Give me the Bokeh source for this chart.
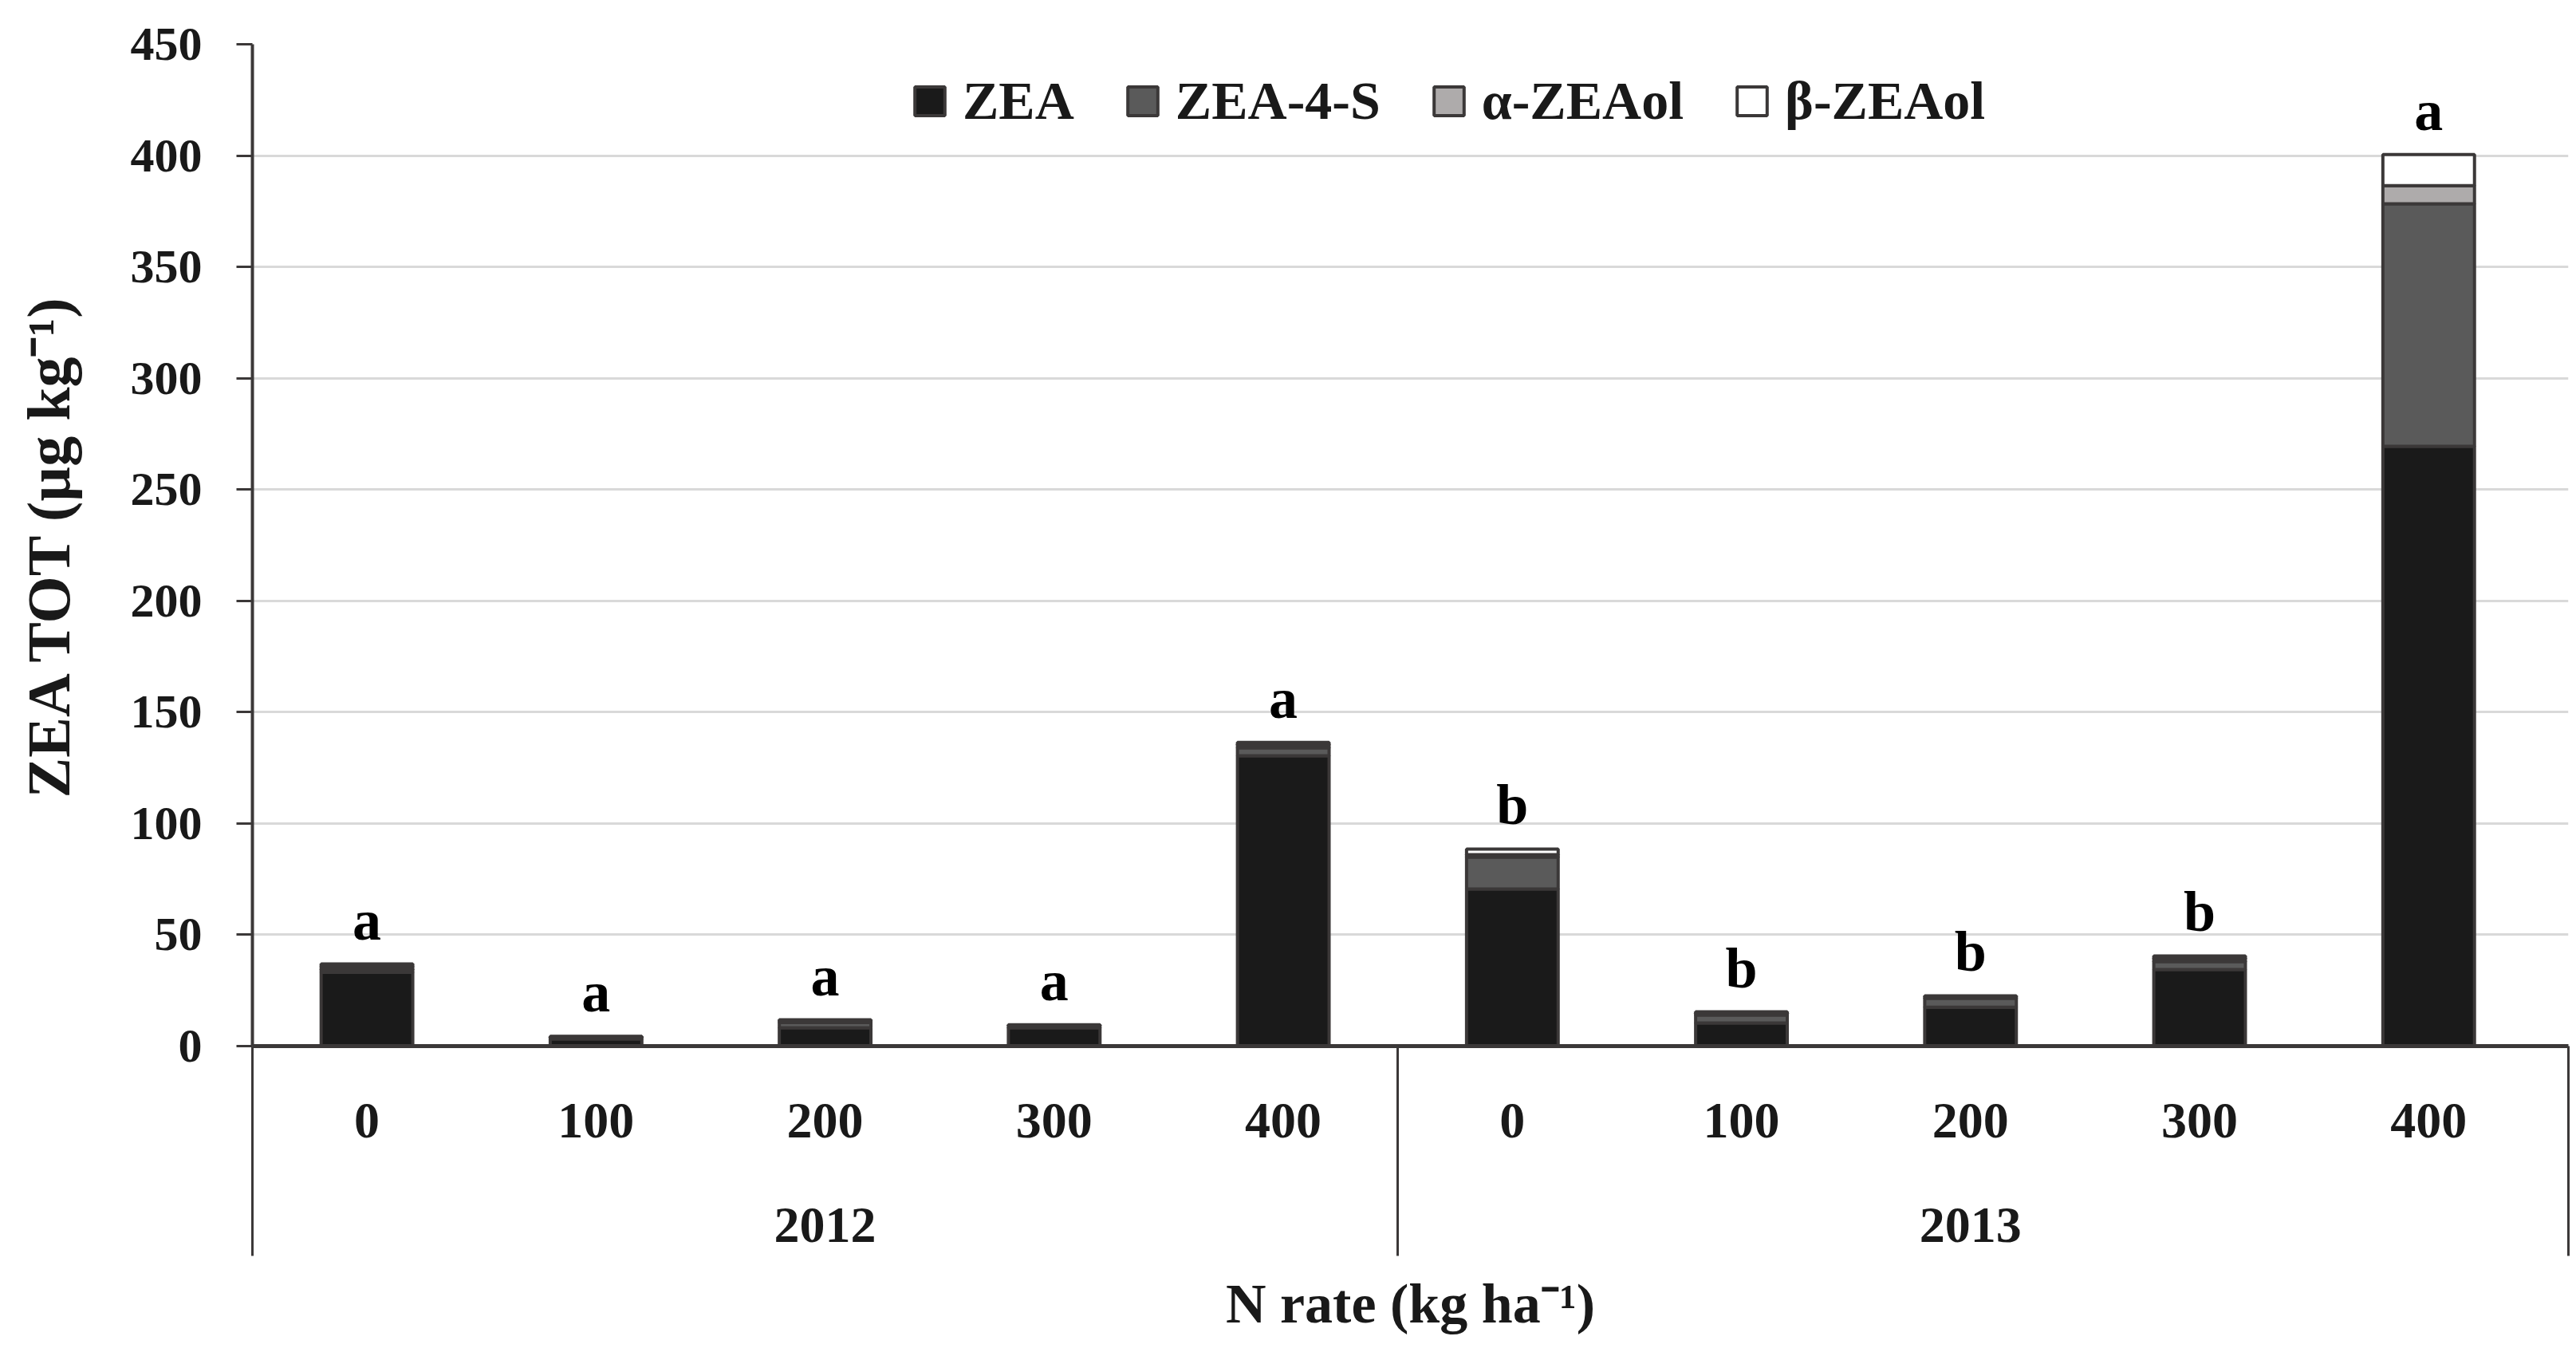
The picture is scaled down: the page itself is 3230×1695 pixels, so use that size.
from bokeh.plotting import figure
from bokeh.models import Range1d, LinearAxis, FixedTicker, ColumnDataSource
from bokeh.core.properties import value
from bokeh.embed import file_html
from bokeh.resources import INLINE

# ---- data -------------------------------------------------------------
years = ["2012", "2013"]
rates = ["0", "100", "200", "300", "400"]
series_names = ["ZEA", "ZEA-4-S", "α-ZEAol", "β-ZEAol"]
zea     = [33.1, 3.2, 8.2, 8.2, 130.4, 70.6, 10.4, 17.5, 34.4, 269.4]
zea4s   = [1.3, 0.8, 2.4, 1.0, 3.6, 14.3, 3.6, 4.0, 3.6, 108.9]
a_zeaol = [1.3, 0.2, 0.7, 0.2, 1.4, 1.1, 0.8, 0.6, 1.4, 8.2]
b_zeaol = [1.2, 0.2, 0.5, 0.2, 1.0, 2.5, 0.6, 0.5, 1.1, 14.0]
letters = ["a", "a", "a", "a", "a", "b", "b", "b", "b", "a"]
y_ticks = [0, 50, 100, 150, 200, 250, 300, 350, 400, 450]

# ---- derived positions --------------------------------------------------
n_cat = len(years) * len(rates)
xs = [i + 0.5 for i in range(n_cat)]
cat_labels = [r for _ in years for r in rates]
year_centers = [len(rates) * (k + 0.5) for k in range(len(years))]
x_end = n_cat + 0.11
bounds = [0, len(rates), x_end]
totals = [a + b + c + d for a, b, c, d in zip(zea, zea4s, a_zeaol, b_zeaol)]

src = ColumnDataSource(dict(x=xs, zea=zea, zea4s=zea4s, azeaol=a_zeaol,
                            bzeaol=b_zeaol, tot=totals, lab=letters))

FONT = "Liberation Serif"
INK = "#191919"
EDGE = "#3b3838"
SEP_LEN = 263      # separator lines below the category axis (px)
LABEL_GAP = 72     # gap between axis line and rate labels (px)

p = figure(width=3230, height=1695, output_backend="svg", toolbar_location=None,
           x_range=Range1d(0, x_end), y_range=Range1d(0, 450),
           x_axis_type=None,
           min_border_left=316, min_border_right=10, min_border_top=55,
           min_border_bottom=384)
p.outline_line_color = None
p.background_fill_color = "white"

p.vbar_stack(["zea", "zea4s", "azeaol", "bzeaol"], x="x", width=0.4, source=src,
             fill_color=["#1a1a1a", "#5a5a5a", "#aeabab", "#ffffff"],
             line_color=EDGE, line_width=4, legend_label=series_names)

p.text(x="x", y="tot", text="lab", source=src, y_offset=-55,
       text_align="center", text_baseline="alphabetic",
       text_font=value(FONT), text_font_style="bold", text_font_size="72px",
       text_color="black")

# ---- y axis -------------------------------------------------------------
yt = FixedTicker(ticks=y_ticks)
ya = p.yaxis[0]
ya.ticker = yt
p.ygrid[0].ticker = yt
p.ygrid.grid_line_color = "#d9d9d9"
p.ygrid.grid_line_width = 3
ya.axis_line_color = EDGE
ya.axis_line_width = 4
ya.major_tick_line_color = EDGE
ya.major_tick_line_width = 3
ya.major_tick_out = 20
ya.major_tick_in = 0
ya.minor_tick_line_color = None
ya.major_label_standoff = 43
ya.major_label_text_font = FONT
ya.major_label_text_font_style = "bold"
ya.major_label_text_font_size = "60px"
ya.major_label_text_color = INK
ya.axis_label = "ZEA TOT (µg kg⁻¹)"
ya.axis_label_text_font = FONT
ya.axis_label_text_font_style = "bold"
ya.axis_label_text_font_size = "76px"
ya.axis_label_text_color = INK
ya.axis_label_standoff = 58

# ---- x axes -------------------------------------------------------------
axA = LinearAxis(ticker=FixedTicker(ticks=xs, minor_ticks=bounds),
                 major_label_overrides={x: l for x, l in zip(xs, cat_labels)},
                 axis_line_color=EDGE, axis_line_width=5,
                 major_tick_line_color=None, major_tick_out=0, major_tick_in=0,
                 minor_tick_line_color=EDGE, minor_tick_line_width=3,
                 minor_tick_out=SEP_LEN, minor_tick_in=0,
                 major_label_standoff=LABEL_GAP - SEP_LEN,
                 major_label_text_font=FONT, major_label_text_font_style="bold",
                 major_label_text_font_size="64px", major_label_text_color=INK)
axB = LinearAxis(ticker=FixedTicker(ticks=year_centers),
                 major_label_overrides={x: y for x, y in zip(year_centers, years)},
                 axis_line_color=None, major_tick_line_color=None,
                 minor_tick_line_color=None, major_tick_out=0, major_tick_in=0,
                 minor_tick_out=0, major_label_standoff=86,
                 major_label_text_font=FONT, major_label_text_font_style="bold",
                 major_label_text_font_size="64px", major_label_text_color=INK,
                 axis_label="N rate (kg ha⁻¹)", axis_label_standoff=36,
                 axis_label_text_font=FONT, axis_label_text_font_style="bold",
                 axis_label_text_font_size="70px", axis_label_text_color=INK)
p.add_layout(axA, "below")
p.add_layout(axB, "below")

# ---- legend -------------------------------------------------------------
lg = p.legend[0]
lg.orientation = "horizontal"
lg.location = (826, 1145)
lg.padding = 0
lg.margin = 0
lg.spacing = 62
lg.label_standoff = 18
lg.glyph_width = 47
lg.glyph_height = 45
lg.border_line_color = None
lg.background_fill_alpha = 0
lg.label_text_font = FONT
lg.label_text_font_style = "bold"
lg.label_text_font_size = "68px"
lg.label_text_color = INK

open("out.html", "w").write(file_html(p, INLINE))
